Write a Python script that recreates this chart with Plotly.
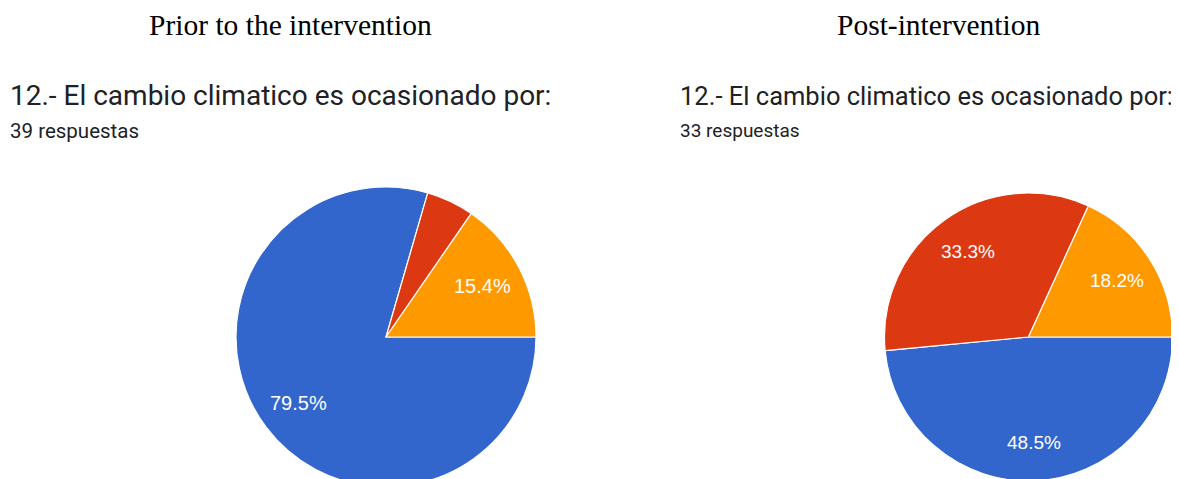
import math
import plotly.graph_objects as go

W, H = 1179, 479
OFF = 8  # the page body adds an 8px margin around the figure

labels = ["A", "B", "C"]
pre_counts = [31, 2, 6]
post_counts = [16, 11, 6]
slice_colors = ["#3366CC", "#DC3912", "#FF9900"]

pre_text = ["79.5%", "", "15.4%"]
post_text = ["48.5%", "33.3%", "18.2%"]

question = "12.- El cambio climatico es ocasionado por:"
pre_title = "Prior to the intervention"
post_title = "Post-intervention"
pre_n = "39 respuestas"
post_n = "33 respuestas"


def px_x(x):
    return (x - OFF) / W


def px_y(y):
    return 1 - (y - OFF) / H


def pie(values, cx, cy, r):
    return go.Pie(
        labels=labels,
        values=values,
        textinfo="none",
        marker=dict(colors=slice_colors, line=dict(color="white", width=1.2)),
        sort=False,
        direction="clockwise",
        rotation=90,
        showlegend=False,
        hoverinfo="label+percent",
        domain=dict(x=[px_x(cx - r), px_x(cx + r)],
                    y=[max(0, px_y(cy + r)), px_y(cy - r)]),
    )


def slice_labels(fig, values, text, cx, cy, r, size):
    # white percentage labels along each slice bisector, like Google Forms
    total = sum(values)
    start = 0.0
    for v, t in zip(values, text):
        span = 360.0 * v / total
        mid = math.radians(start + span / 2)
        start += span
        if not t:
            continue
        fig.add_annotation(
            x=px_x(cx + 0.73 * r * math.cos(mid)),
            y=px_y(cy + 0.73 * r * math.sin(mid)),
            xref="paper", yref="paper", text=t, showarrow=False,
            xanchor="center", yanchor="middle",
            font=dict(family="Liberation Sans, Arial", size=size, color="white"),
        )


fig = go.Figure()
fig.add_trace(pie(pre_counts, 386, 337, 150))
fig.add_trace(pie(post_counts, 1028.5, 337, 144))
slice_labels(fig, pre_counts, pre_text, 386, 337, 150, 20)
slice_labels(fig, post_counts, post_text, 1028.5, 337, 144, 19)

serif = "Liberation Serif, Times New Roman, serif"
sans = "Roboto, Liberation Sans, Arial"

notes = [
    (290, 25, pre_title, serif, 29.5, "#000000", "center"),
    (938, 25, post_title, serif, 29.5, "#000000", "center"),
    (8, 96, question, sans, 28, "#202124", "left"),
    (8, 131, pre_n, sans, 20.5, "#202124", "left"),
    (678, 96, question, sans, 25.5, "#202124", "left"),
    (678, 131, post_n, sans, 19, "#202124", "left"),
]
for x, y, t, fam, size, col, anchor in notes:
    fig.add_annotation(
        x=px_x(x), y=px_y(y), xref="paper", yref="paper",
        text=t, showarrow=False, xanchor=anchor, yanchor="middle",
        font=dict(family=fam, size=size, color=col),
    )

fig.update_layout(
    width=W, height=H,
    margin=dict(l=0, r=0, t=0, b=0),
    paper_bgcolor="white",
    plot_bgcolor="white",
)

fig.write_html("out.html")
